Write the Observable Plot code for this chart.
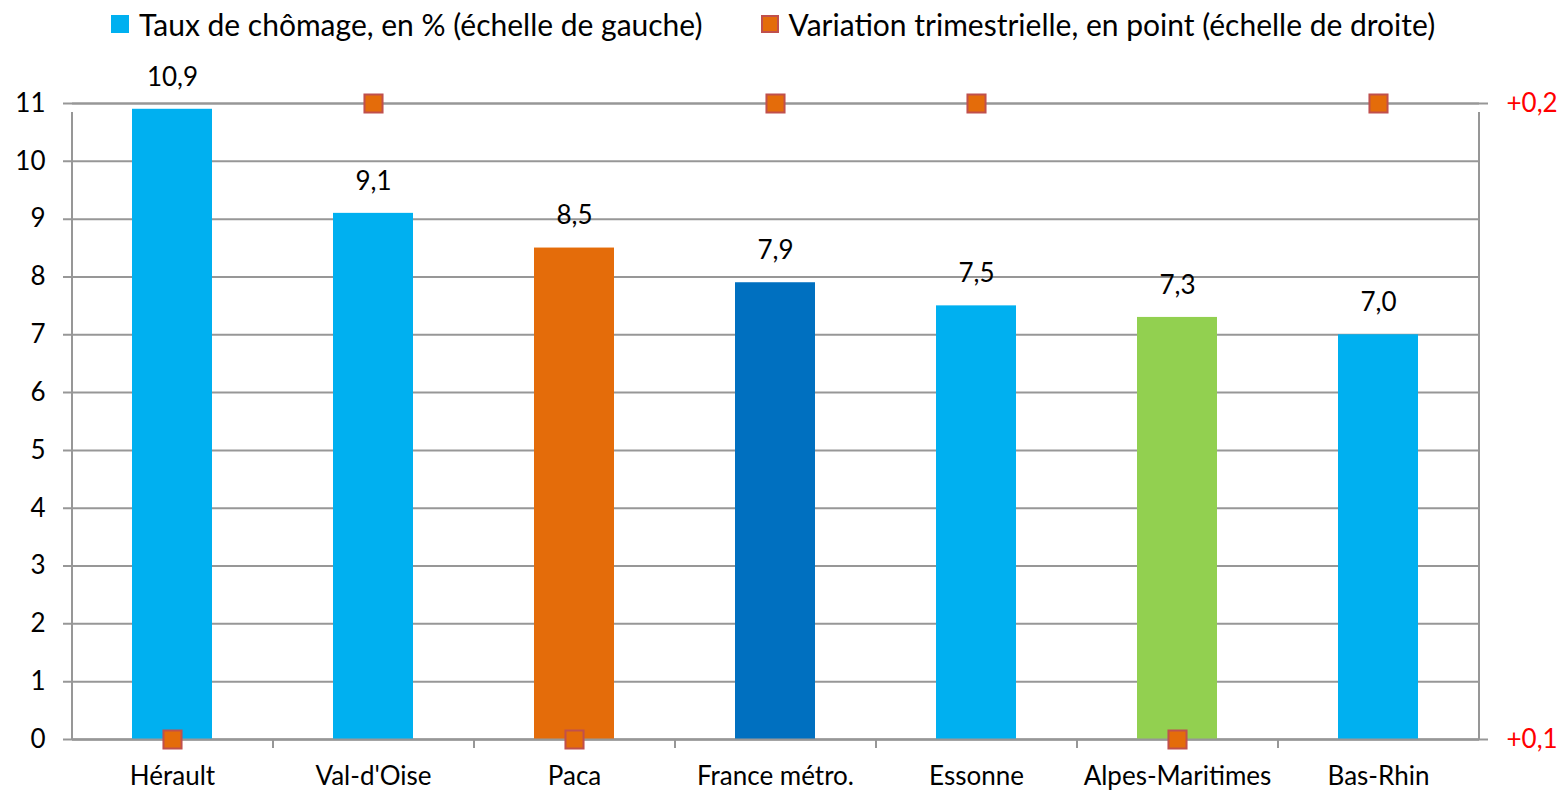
<!DOCTYPE html>
<html>
<head>
<meta charset="utf-8">
<script src="https://cdn.jsdelivr.net/npm/d3@7"></script>
<script src="https://cdn.jsdelivr.net/npm/@observablehq/plot@0.6"></script>
<style>
  html, body { margin: 0; padding: 0; background: #fff; }
  body { width: 1560px; height: 790px; overflow: hidden; font-family: Lato, "Open Sans", sans-serif; }
  #legend { height: 47px; display: flex; align-items: center; font-size: 30px; color: #000; padding-left: 111px; }
  .item { display: flex; align-items: center; margin-right: 58px; }
  .sw { width: 18px; height: 18px; margin-right: 10px; box-sizing: border-box; }
</style>
</head>
<body>
<div id="legend"></div>
<div id="chart"></div>
<script>
const categories = ["Hérault", "Val-d'Oise", "Paca", "France métro.", "Essonne", "Alpes-Maritimes", "Bas-Rhin"];
const rates = [10.9, 9.1, 8.5, 7.9, 7.5, 7.3, 7.0];
const variations = [0.1, 0.2, 0.1, 0.2, 0.2, 0.1, 0.2];
const levels = ["Département", "Département", "Région", "France", "Département", "Département de la région", "Département"];
const leftTicks = [0, 1, 2, 3, 4, 5, 6, 7, 8, 9, 10, 11];
const rightTicks = [0.1, 0.2];
const legendLabels = ["Taux de chômage, en % (échelle de gauche)", "Variation trimestrielle, en point (échelle de droite)"];

const levelColors = {
  domain: ["Département", "Région", "France", "Département de la région"],
  range: ["#00b0f0", "#e46c0a", "#0070c0", "#92d050"]
};
const markerFill = "#e46c0a", markerStroke = "#c0504d";
const gridColor = "#979797";

const fmt = d => d.toFixed(1).replace(".", ",");
const fmtR = d => "+" + d.toFixed(1).replace(".", ",");

// right scale mapped onto left scale
const yMax = 11;
const right = d3.scaleLinear().domain([0.1, 0.2]).range([0, yMax]);

const data = categories.map((c, i) => ({cat: c, rate: rates[i], variation: variations[i], level: levels[i]}));

const W = 1560, H = 743, mL = 72, mR = 81, mT = 56, mB = 51;
const step = (W - mL - mR) / categories.length;

// legend
const legend = document.getElementById("legend");
[[levelColors.range[0], "none", legendLabels[0]], [markerFill, markerStroke, legendLabels[1]]].forEach(([f, s, t]) => {
  const it = document.createElement("div"); it.className = "item";
  const sw = document.createElement("div"); sw.className = "sw";
  sw.style.background = f; if (s !== "none") sw.style.border = "2px solid " + s;
  const tx = document.createElement("span"); tx.textContent = t;
  it.append(sw, tx); legend.append(it);
});

const fs = 26;
const chart = Plot.plot({
  width: W, height: H,
  marginLeft: mL, marginRight: mR, marginTop: mT, marginBottom: mB,
  style: {fontFamily: "Lato, 'Open Sans', sans-serif", fontSize: fs + "px", color: "#000", background: "#fff"},
  x: {domain: categories, paddingInner: 0.6, paddingOuter: 0.3, axis: null},
  y: {domain: [0, yMax], axis: null},
  color: levelColors,
  marks: [
    Plot.ruleY(leftTicks, {stroke: gridColor, strokeWidth: 2, insetLeft: -9}),
    Plot.ruleY([0, yMax], {stroke: gridColor, strokeWidth: 2, insetRight: -9}),
    Plot.ruleX(categories, {x: d => d, y1: 0, y2: yMax, insetBottom: -9, dx: -step / 2, stroke: gridColor, strokeWidth: 2, filter: (d, i) => i === 0}),
    Plot.ruleX(categories, {x: d => d, y1: 0, y2: yMax, insetBottom: -9, dx: step / 2, stroke: gridColor, strokeWidth: 2, filter: (d, i) => i === categories.length - 1}),
    Plot.ruleX(categories, {x: d => d, y1: 0, y2: 0, insetBottom: -9, dx: step / 2, stroke: gridColor, strokeWidth: 2, filter: (d, i) => i < categories.length - 1}),
    Plot.barY(data, {x: "cat", y: "rate", fill: "level"}),
    Plot.ruleY([0], {stroke: gridColor, strokeWidth: 2}),
    Plot.text(data, {x: "cat", y: "rate", text: d => fmt(d.rate), dy: -32, fontSize: fs, fill: "#000"}),
    Plot.dot(data, {x: "cat", y: d => right(d.variation), symbol: "square", r: 10.2, fill: markerFill, stroke: markerStroke, strokeWidth: 2}),
    Plot.axisY(leftTicks, {anchor: "left", tickSize: 0, tickPadding: 27, fontSize: fs, label: null, tickFormat: d => String(d)}),
    Plot.axisY(rightTicks.map(right), {anchor: "right", tickSize: 0, tickPadding: 27, fontSize: fs, label: null, tickFormat: d => fmtR(right.invert(d)), color: "#ff0000"}),
    Plot.axisX(categories, {anchor: "bottom", tickSize: 0, tickPadding: 27, fontSize: fs, label: null})
  ]
});
document.getElementById("chart").append(chart);
</script>
</body>
</html>
